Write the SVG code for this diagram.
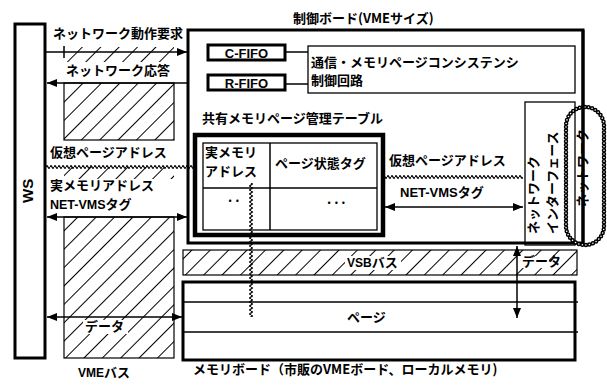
<svg xmlns="http://www.w3.org/2000/svg" width="607" height="387" viewBox="0 0 607 387">
<defs>
<style>
.jp{font-family:"Noto Sans CJK JP","Noto Sans CJK SC",sans-serif;font-weight:bold;font-size:13px;fill:#000}
.en{font-family:"Liberation Sans","Noto Sans CJK JP",sans-serif;font-weight:bold;fill:#000}
.thin{fill:none;stroke:#000;stroke-width:1.3}
.thick{fill:none;stroke:#000;stroke-width:3}
.ln{stroke:#000;stroke-width:1.5;fill:none}
.arr{stroke:#000;stroke-width:1.5;fill:none;marker-end:url(#ah)}
.arr2{stroke:#000;stroke-width:1.5;fill:none;marker-end:url(#ah);marker-start:url(#ah)}
.hatch{fill:url(#hp)}
.wave{fill:url(#wv)}
</style>
<pattern id="hp" width="13" height="13" patternUnits="userSpaceOnUse" patternTransform="rotate(45)">
<rect width="13" height="13" fill="#fff"/>
<line x1="0" y1="0" x2="0" y2="13" stroke="#000" stroke-width="2"/>
</pattern>
<pattern id="wv" width="4" height="6" patternUnits="userSpaceOnUse">
<path d="M0 3 Q1 0.5 2 3 T4 3" fill="none" stroke="#000" stroke-width="1.3"/>
</pattern>
<marker id="ah" viewBox="0 0 10 8" refX="10" refY="4" markerWidth="10" markerHeight="8" markerUnits="userSpaceOnUse" orient="auto-start-reverse">
<path d="M0 0 L10 4 L0 8 z" fill="#000"/>
</marker>
</defs>
<rect width="607" height="387" fill="#fff"/>

<!-- VME bus column -->
<g id="vmebus">
<rect class="hatch" x="64" y="47" width="110" height="15"/>
<rect class="hatch" x="64" y="83" width="110" height="57" stroke="#000" stroke-width="1.2"/>
<rect class="hatch" x="64" y="167" width="110" height="12"/>
<rect class="hatch" x="64" y="217" width="110" height="141" stroke="#000" stroke-width="1.2"/>
<line class="ln" x1="64" y1="46" x2="64" y2="58"/>
<rect x="83" y="320" width="45" height="14" fill="#fff"/>
<text class="jp" x="85" y="331" font-size="12">データ</text>
<text class="en" x="78" y="377" font-size="12">VME<tspan class="jp" font-size="12">バス</tspan></text>
</g>

<!-- WS -->
<g id="ws">
<rect class="thick" x="15" y="24" width="30" height="334"/>
<text class="en" font-size="15" transform="translate(33,203) rotate(-90)">WS</text>
</g>

<!-- Control board -->
<g id="board">
<rect class="thick" x="188" y="30" width="395" height="213"/>
<text class="jp" x="293" y="23">制御ボード(VMEサイズ)</text>
</g>

<g id="cfifo">
<rect class="thick" x="208" y="45" width="77" height="15"/>
<text class="en" x="246.5" y="57.5" font-size="13" font-weight="normal" text-anchor="middle">C-FIFO</text>
</g>
<g id="rfifo">
<rect class="thick" x="208" y="75" width="77" height="15"/>
<text class="en" x="246.5" y="87.5" font-size="13" font-weight="normal" text-anchor="middle">R-FIFO</text>
</g>
<g id="ctrl">
<rect class="thin" x="308" y="46" width="267" height="47"/>
<text class="jp" x="311" y="67" font-size="14">通信・メモリページコンシステンシ</text>
<text class="jp" x="311" y="85" font-size="13">制御回路</text>
</g>

<g id="table">
<text class="jp" x="202" y="123" font-size="11.5">共有メモリページ管理テーブル</text>
<rect fill="none" stroke="#000" stroke-width="4.5" x="195" y="135" width="188" height="100"/>
<rect class="thin" x="203" y="143" width="174" height="87"/>
<line class="ln" x1="270" y1="143" x2="270" y2="230"/>
<line class="ln" x1="203" y1="188" x2="377" y2="188"/>
<text class="jp" x="205" y="157" font-size="12">実メモリ</text>
<text class="jp" x="205" y="176" font-size="12">アドレス</text>
<text class="jp" x="275" y="168" font-size="12">ページ状態タグ</text>
<text class="jp" x="228" y="202" font-size="12">. .</text>
<text class="jp" x="327" y="204" font-size="12">. . .</text>
</g>

<g id="nif">
<rect class="thin" x="525" y="102" width="50" height="143"/>
<text class="jp" font-size="12" transform="translate(538,234) rotate(-90)">ネットワーク</text>
<text class="jp" font-size="13" transform="translate(557,234) rotate(-90)">インターフェース</text>
</g>

<g id="network">
<rect x="566" y="107" width="38" height="138" rx="19" fill="none" stroke="#000" stroke-width="4.5" stroke-dasharray="0 3.6" stroke-linecap="round"/>
<rect x="566" y="107" width="38" height="138" rx="19" fill="none" stroke="#fff" stroke-width="1.6" stroke-dasharray="0 3.6" stroke-linecap="round"/>
<line x1="583" y1="30" x2="583" y2="243" stroke="#000" stroke-width="3"/>
<text class="jp" font-size="11.5" transform="translate(587,207) rotate(-90)">ネットワーク</text>
</g>

<g id="vsb">
<rect class="hatch" x="183" y="250" width="394" height="25" stroke="#000" stroke-width="1.2"/>
<rect x="345" y="256" width="56" height="14" fill="#fff"/>
<text class="en" x="347" y="267" font-size="12" font-weight="normal">VSB<tspan class="jp" font-size="12">バス</tspan></text>
<rect x="521" y="256" width="28" height="12" fill="#fff"/>
<text class="jp" x="522" y="266" font-size="10">データ</text>
</g>

<g id="memboard">
<rect class="thick" x="183" y="282" width="392" height="78"/>
<line class="ln" x1="183" y1="302" x2="578" y2="302"/>
<line class="ln" x1="183" y1="332" x2="578" y2="332"/>
<text class="jp" x="347" y="322" font-size="12">ページ</text>
<text class="jp" x="193" y="374" font-size="13">メモリボード（市販のVMEボード、ローカルメモリ)</text>
</g>

<!-- connectors -->
<g id="connectors">
<line class="arr" x1="46" y1="52" x2="187" y2="52"/>
<text class="jp" x="53" y="38">ネットワーク動作要求</text>
<rect x="60" y="62" width="118" height="17" fill="#fff"/>
<text class="jp" x="66" y="75">ネットワーク応答</text>
<line class="arr" x1="187" y1="83" x2="47" y2="83"/>
<line class="ln" x1="285" y1="52" x2="308" y2="52"/>
<line class="ln" x1="285" y1="84" x2="308" y2="84"/>

<text class="jp" x="50" y="157">仮想ページアドレス</text>
<rect class="wave" x="0" y="0" width="150" height="6" transform="translate(46,164)"/>
<text class="jp" x="50" y="190" font-size="12.5">実メモリアドレス</text>
<text class="en" x="50" y="209" font-size="12.5">NET-VMS<tspan class="jp">タグ</tspan></text>
<line class="arr2" x1="47" y1="217" x2="187" y2="217"/>

<text class="jp" x="389" y="165">仮想ページアドレス</text>
<rect class="wave" x="0" y="0" width="140" height="6" transform="translate(383,174)"/>
<text class="en" x="400" y="197" font-size="13">NET-VMS<tspan class="jp">タグ</tspan></text>
<line class="arr2" x1="385" y1="207" x2="523" y2="207"/>

<rect class="wave" x="0" y="0" width="134" height="6" transform="translate(254,183) rotate(90)"/>
<line class="arr2" x1="47" y1="317" x2="182" y2="317"/>
<line class="arr2" x1="517" y1="246" x2="517" y2="318"/>
</g>
</svg>
